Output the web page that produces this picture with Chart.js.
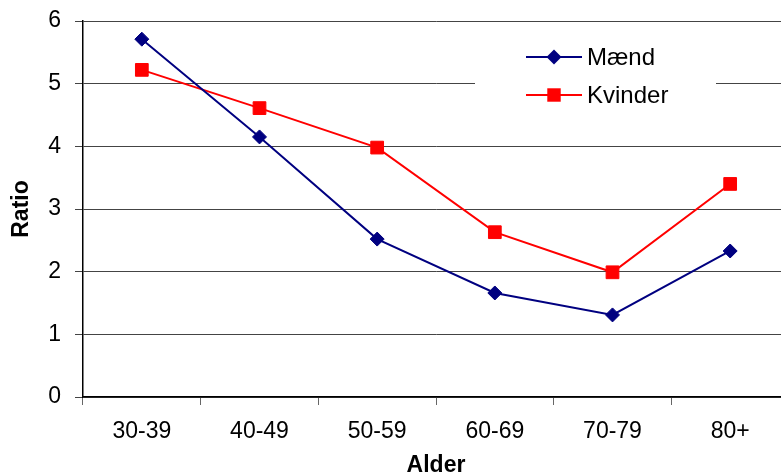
<!DOCTYPE html>
<html>
<head>
<meta charset="utf-8">
<script src="https://cdn.jsdelivr.net/npm/chart.js@4/dist/chart.umd.min.js"></script>
<style>
	html, body { margin: 0; padding: 0; background: #fff; overflow: hidden; }
	#wrap { width: 800px; height: 475px; }
</style>
</head>
<body>
<div id="wrap"><canvas id="ratioChart" width="800" height="475"></canvas></div>
<script>
// Age groups and ratio per group
const ageGroups = ["30-39", "40-49", "50-59", "60-69", "70-79", "80+"];
const maend = [5.71, 4.15, 2.52, 1.66, 1.31, 2.33];
const kvinder = [5.22, 4.61, 3.98, 2.63, 1.99, 3.4];
const yTicks = [0, 1, 2, 3, 4, 5, 6];

const FONT = "'Liberation Sans', Arial, sans-serif";

// Draws one legend marker in the dataset's point style
function drawMarker(ctx, style, x, y, r, color) {
	ctx.fillStyle = color;
	ctx.beginPath();
	if (style === "rectRot") {
		ctx.moveTo(x - r, y);
		ctx.lineTo(x, y - r);
		ctx.lineTo(x + r, y);
		ctx.lineTo(x, y + r);
	} else {
		const s = r * Math.SQRT1_2;
		ctx.rect(x - s, y - s, 2 * s, 2 * s);
	}
	ctx.closePath();
	ctx.fill();
}

// Legend box sitting inside the plot, over the gridline
const insideLegend = {
	id: "insideLegend",
	afterDraw(chart) {
		const ctx = chart.ctx;
		ctx.save();
		ctx.fillStyle = "#fff";
		ctx.fillRect(475, 34, 241, 88);
		chart.data.datasets.forEach((ds, i) => {
			const y = 57 + i * 38;
			ctx.strokeStyle = ds.borderColor;
			ctx.lineWidth = ds.borderWidth;
			ctx.beginPath();
			ctx.moveTo(526, y);
			ctx.lineTo(582, y);
			ctx.stroke();
			drawMarker(ctx, ds.pointStyle, 554, y, ds.pointRadius + 0.5, ds.borderColor);
			ctx.fillStyle = "#000";
			ctx.font = "24px " + FONT;
			ctx.textAlign = "left";
			ctx.textBaseline = "middle";
			ctx.fillText(ds.label, 587, y + 1);
		});
		ctx.restore();
	},
};

const ctx = document.getElementById("ratioChart").getContext("2d");
new Chart(ctx, {
	type: "line",
	data: {
		labels: ageGroups,
		datasets: [
			{
				label: "Mænd",
				data: maend,
				borderColor: "#000080",
				backgroundColor: "#000080",
				borderWidth: 2,
				pointStyle: "rectRot",
				pointRadius: 7,
				pointBorderWidth: 1,
				tension: 0,
			},
			{
				label: "Kvinder",
				data: kvinder,
				borderColor: "#ff0000",
				backgroundColor: "#ff0000",
				borderWidth: 2,
				pointStyle: "rect",
				pointRadius: 9,
				pointBorderWidth: 1,
				tension: 0,
			},
		],
	},
	options: {
		responsive: false,
		animation: false,
		layout: { padding: { top: 21, right: 11, bottom: 0, left: 0 } },
		plugins: {
			legend: { display: false },
			tooltip: { enabled: false },
		},
		scales: {
			x: {
				offset: true,
				grid: {
					offset: true,
					drawOnChartArea: false,
					tickLength: 8,
					color: "#666",
				},
				border: { color: "#000", width: 1.5 },
				ticks: {
					color: "#000",
					font: { family: FONT, size: 23 },
					padding: 13,
					maxRotation: 0,
				},
				title: {
					display: true,
					text: "Alder",
					color: "#000",
					font: { family: FONT, size: 23, weight: "bold", lineHeight: 0.8 },
					padding: 0,
				},
				afterFit(scale) {
					scale.height = 78;
					scale.paddingLeft = 0;
					scale.paddingRight = 0;
				},
			},
			y: {
				min: yTicks[0],
				max: yTicks[yTicks.length - 1],
				afterBuildTicks(scale) {
					scale.ticks = yTicks.map((v) => ({ value: v }));
				},
				grid: { color: "#444", tickLength: 8 },
				border: { color: "#000", width: 1.5 },
				ticks: {
					color: "#000",
					font: { family: FONT, size: 23 },
					padding: 14,
				},
				title: {
					display: true,
					text: "Ratio",
					color: "#000",
					font: { family: FONT, size: 23, weight: "bold" },
					padding: { top: 8, bottom: 0 },
				},
				afterFit(scale) {
					scale.width = 83;
					scale.paddingTop = 0;
					scale.paddingBottom = 0;
				},
			},
		},
	},
	plugins: [insideLegend],
});
</script>
</body>
</html>
